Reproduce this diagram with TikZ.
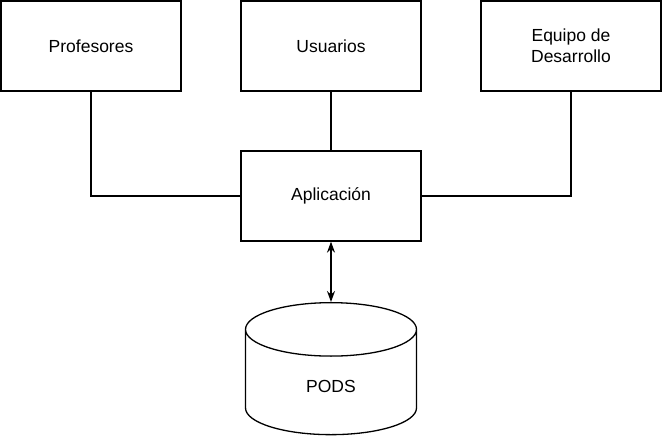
\documentclass[tikz,border=0pt]{standalone}
\usepackage{fontspec}
\setmainfont{Liberation Sans}
\usetikzlibrary{arrows.meta,positioning,shapes.geometric}

\begin{document}
\begin{tikzpicture}[
    x=1pt, y=-1pt,
    box/.style={draw, line width=1.3pt, minimum width=180pt, minimum height=90pt,
      align=center, font=\fontsize{17.5}{21}\selectfont},
    db/.style={draw, line width=1.3pt, cylinder, shape border rotate=90, aspect=0.95,
      minimum width=171pt, minimum height=132pt, font=\fontsize{17.5}{21}\selectfont},
    link/.style={line width=1.3pt},
    >={Stealth[length=11pt,width=8pt]}
]
\useasboundingbox (0,0) rectangle (662,437);

% Actors
\node[box] (prof) at (91,46) {Profesores};
\node[box] (usr) at (331,46) {Usuarios};
\node[box] (dev) at (571,46) {Equipo de\\Desarrollo};

% Application and storage
\node[box] (app) at (331,196) {Aplicación};
\node[db, anchor=top] (pods) at (331,302) {PODS};

% Links
\draw[link] (prof.south) |- (app.west);
\draw[link] (usr.south) -- (app.north);
\draw[link] (dev.south) |- (app.east);
\draw[link, <->] (app.south) -- (pods.top);

\end{tikzpicture}
\end{document}
